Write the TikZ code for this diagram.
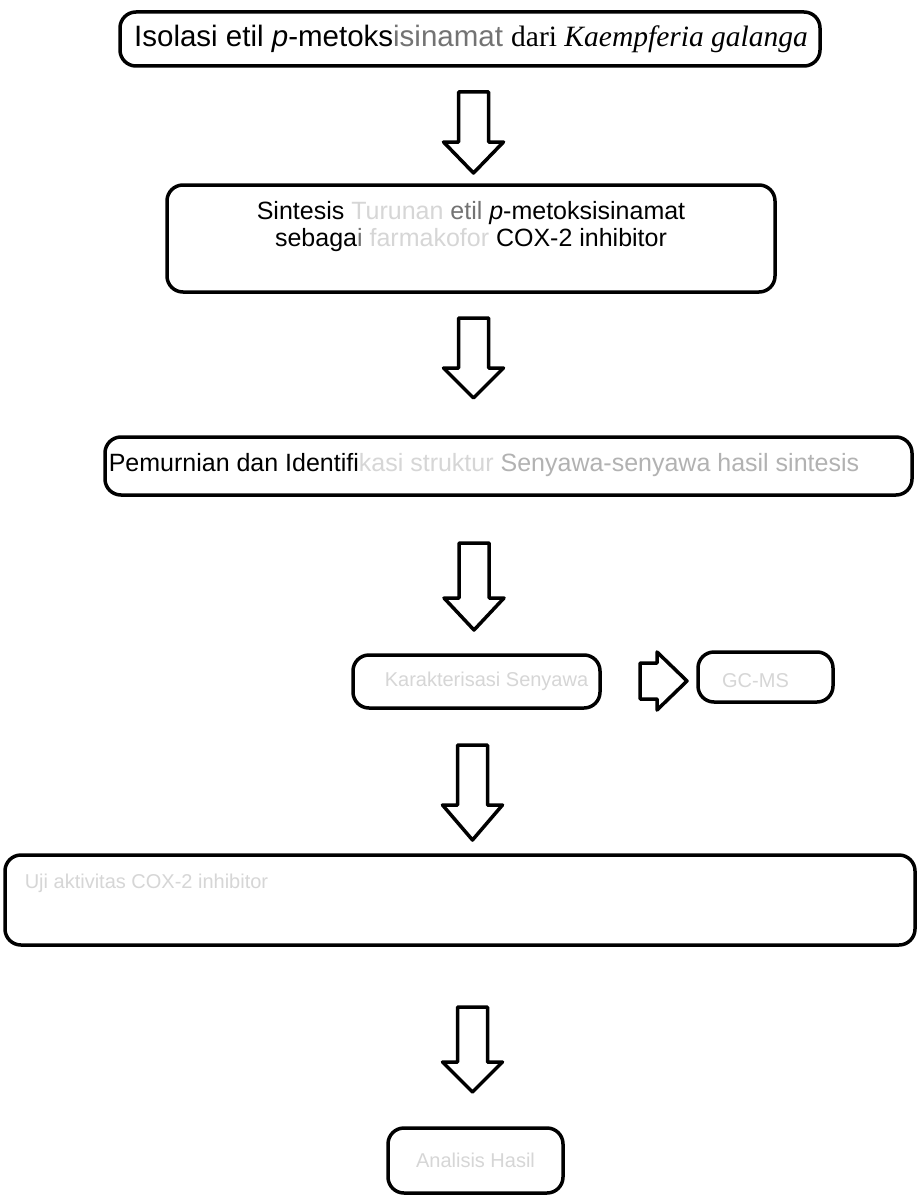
\documentclass[tikz,border=0pt]{standalone}
\usepackage{fontspec}
\setmainfont{Liberation Sans}
\newfontfamily\serifpart{Liberation Serif}
\usetikzlibrary{calc}

\colorlet{faded}{black!16}
\colorlet{halfink}{black!55}

\begin{document}
\begin{tikzpicture}[x=1pt,y=-1pt,
    flowbox/.style={draw=black,line width=3.5pt,rounded corners=16pt,fill=white,inner sep=0pt},
    blockarrow/.style={draw=black,line width=3.5pt,fill=white,line join=round},
    boxtext/.style={font=\fontsize{25}{27}\selectfont,align=center}]
	\useasboundingbox (0,0) rectangle (919,1196);
	%
	\node[flowbox,minimum width=700pt,minimum height=54pt] (isolasi) at (470,39) {};
	\node[flowbox,minimum width=608pt,minimum height=107pt] (sintesis) at (471,238.5) {};
	\node[flowbox,minimum width=807pt,minimum height=58pt] (pemurnian) at (508.5,466) {};
	\node[flowbox,minimum width=247pt,minimum height=53pt] (karakter) at (476.5,681.5) {};
	\node[flowbox,minimum width=135pt,minimum height=50pt] (spektra) at (765.5,677) {};
	\node[flowbox,minimum width=910pt,minimum height=90pt] (ujiaktiv) at (460,900) {};
	\node[flowbox,minimum width=175pt,minimum height=65pt] (analisis) at (475.5,1160.5) {};
	%
	\node[font=\fontsize{29.5}{32}\selectfont] (isolasitxt) at ($(isolasi)+(1,0)$) {Isolasi etil \textit{p}-metoks\textcolor{halfink}{isinamat} {\serifpart dari \textit{Kaempferia galanga}}};
	\node[boxtext] (sintesistxt) at ($(sintesis)+(0,-12)$) {Sintesis \textcolor{faded}{Turunan} \textcolor{halfink}{etil} \textit{p}-metoksisinamat\\sebaga\textcolor{halfink}{i} \textcolor{faded}{farmakofor} COX-2 inhibitor};
	\node[boxtext,anchor=west] (pemurniantxt) at ($(pemurnian.west)+(2,-1)$) {Pemurnian dan Identifi\textcolor{faded}{kasi struktur} \textcolor{black!30}{Senyawa-senyawa hasil sintesis}};
	\node[boxtext,text=faded,font=\fontsize{20}{24}\selectfont] (karaktertxt) at ($(karakter)+(10,0)$) {Karakterisasi Senyawa};
	\node[boxtext,text=faded,font=\fontsize{20}{24}\selectfont] (spektratxt) at ($(spektra)+(-10,4)$) {GC-MS};
	\node[boxtext,text=faded,font=\fontsize{20}{24}\selectfont,anchor=west] (ujiaktivtxt) at ($(ujiaktiv.west)+(18,-17)$) {Uji aktivitas COX-2 inhibitor};
	\node[boxtext,text=faded,font=\fontsize{20}{24}\selectfont] (analisistxt) at (analisis) {Analisis Hasil};
	%
	\coordinate (a1s) at (473.5,92);   \coordinate (a1t) at (473.5,173);
	\coordinate (a2s) at (473.5,318);  \coordinate (a2t) at (473.5,398);
	\coordinate (a3s) at (474,543);    \coordinate (a3t) at (474,630);
	\coordinate (a4s) at (472.5,745);  \coordinate (a4t) at (472.5,840);
	\coordinate (a5s) at (472.5,1007); \coordinate (a5t) at (472.5,1092);
	\coordinate (r1s) at (640,681);    \coordinate (r1t) at (687,681);
	%
	\draw[blockarrow] ($(a1s)+(-15,0)$) -- ($(a1s)+(15,0)$) -- ($(a1t)+(15,-31)$) -- ($(a1t)+(30,-31)$) -- (a1t) -- ($(a1t)+(-30,-31)$) -- ($(a1t)+(-15,-31)$) -- cycle;
	\draw[blockarrow] ($(a2s)+(-15,0)$) -- ($(a2s)+(15,0)$) -- ($(a2t)+(15,-30)$) -- ($(a2t)+(30,-30)$) -- (a2t) -- ($(a2t)+(-30,-30)$) -- ($(a2t)+(-15,-30)$) -- cycle;
	\draw[blockarrow] ($(a3s)+(-15,0)$) -- ($(a3s)+(15,0)$) -- ($(a3t)+(15,-32)$) -- ($(a3t)+(30,-32)$) -- (a3t) -- ($(a3t)+(-30,-32)$) -- ($(a3t)+(-15,-32)$) -- cycle;
	\draw[blockarrow] ($(a4s)+(-15,0)$) -- ($(a4s)+(15,0)$) -- ($(a4t)+(15,-35)$) -- ($(a4t)+(30,-35)$) -- (a4t) -- ($(a4t)+(-30,-35)$) -- ($(a4t)+(-15,-35)$) -- cycle;
	\draw[blockarrow] ($(a5s)+(-15,0)$) -- ($(a5s)+(15,0)$) -- ($(a5t)+(15,-30)$) -- ($(a5t)+(30,-30)$) -- (a5t) -- ($(a5t)+(-30,-30)$) -- ($(a5t)+(-15,-30)$) -- cycle;
	\draw[blockarrow] ($(r1s)+(0,-18)$) -- ($(r1t)+(-30,-18)$) -- ($(r1t)+(-30,-29)$) -- (r1t) -- ($(r1t)+(-30,29)$) -- ($(r1t)+(-30,18)$) -- ($(r1s)+(0,18)$) -- cycle;
	%
\end{tikzpicture}
\end{document}
